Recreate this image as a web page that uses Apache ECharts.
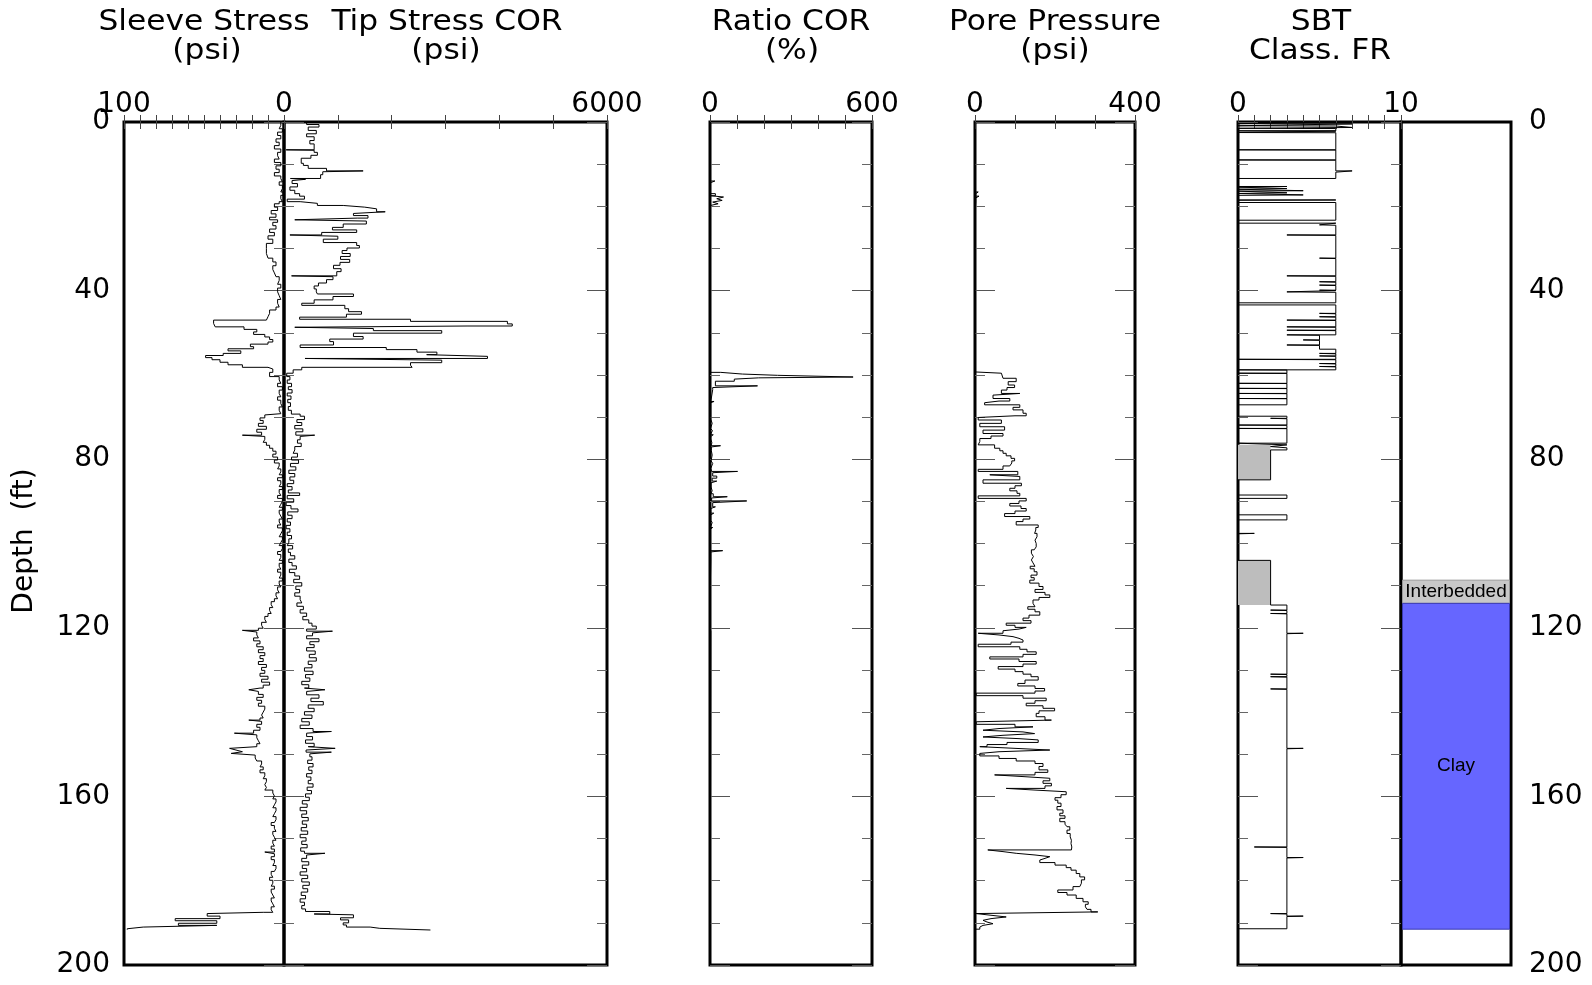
<!DOCTYPE html>
<html>
<head>
<meta charset="utf-8">
<script src="https://cdn.jsdelivr.net/npm/echarts@6/dist/echarts.min.js"></script>
<style>html,body{margin:0;padding:0;background:#fff}#chart{width:1592px;height:985px}</style>
</head>
<body>
<div id="chart"></div>
<script>
// ---------------- DATA (depth ft, value) ----------------
const sleeveData = [[0,2],[0.8,3],[1.6,1],[2.4,4],[3.2,2],[4.0,5],[4.8,3],[5.6,6],[6.4,2],[7.2,4],[8.0,3],[8.8,6],[9.6,2],[10.4,5],[11.2,3],[12.0,6],[12.8,2],[13.4,1],[14.2,3],[15.0,1],[15.8,2],[16.6,0.5],[17.4,2],[18.2,1],[18.9,3],[19.4,6],[20.2,4],[21.0,8],[21.8,5],[22.6,9],[23.2,4],[23.8,7],[24.6,5],[25.4,9],[26.2,6],[27.0,10],[27.8,7],[28.8,11],[30.0,11],[31.2,10],[32.3,7],[33.2,5],[34.1,7],[35.0,6],[35.8,5],[36.7,3],[37.6,4],[38.5,2],[39.4,4],[40.3,3],[41.2,2],[42.1,4],[43.0,3],[43.9,5],[44.6,9],[45.4,10],[46.2,11],[47.0,44],[47.8,43],[48.6,25],[49.2,17],[49.8,19],[50.4,12],[51.0,9],[51.6,7],[52.2,10],[52.7,21],[53.3,19],[53.8,35],[54.3,27],[54.9,38],[55.4,49],[55.9,45],[56.4,40],[57.0,35],[57.6,26],[58.2,10],[58.6,7],[59.4,9],[60.4,3],[61.2,2],[62.0,4],[62.8,1],[63.6,3],[64.4,2],[65.2,4],[66.0,2],[66.8,1],[67.6,3],[68.4,2],[69.2,1],[69.5,12],[70.2,15],[70.8,13],[71.5,16],[72.2,11],[72.9,17],[73.6,14],[74.3,26],[74.6,12],[75.3,13],[76.0,11],[76.7,9],[77.4,7],[78.1,5],[78.8,7],[79.5,4],[80.2,6],[80.9,3],[81.6,4],[82.3,2],[83.0,3],[83.7,1],[84.4,4],[85.1,2],[85.8,3],[86.5,1],[87.2,3],[87.9,2],[88.6,4],[89.3,1],[90.0,2],[90.7,3],[91.4,1],[92.1,3],[92.8,2],[93.5,1],[94.2,3],[94.9,2],[95.6,4],[96.3,1],[97.0,2],[97.7,3],[98.4,1],[99.1,2],[99.8,3],[100.5,1],[101.2,2],[101.9,4],[102.6,2],[103.3,3],[104.0,1],[104.7,3],[105.4,2],[106.1,4],[106.8,2],[107.5,3],[108.2,1],[108.9,3],[109.6,2],[110.3,4],[111.0,3],[111.7,5],[112.4,4],[113.1,6],[113.8,8],[114.5,7],[115.2,9],[115.9,8],[116.6,10],[117.3,12],[118.0,11],[118.7,14],[119.4,13],[120.1,16],[120.6,26],[121.0,17],[121.7,16],[122.4,19],[123.1,15],[123.8,17],[124.5,13],[125.2,16],[125.9,12],[126.6,15],[127.3,13],[128.0,16],[128.7,11],[129.4,14],[130.1,12],[130.8,15],[131.5,10],[132.2,14],[132.9,9],[133.6,13],[134.3,15],[134.7,22],[135.1,16],[135.8,13],[136.5,17],[137.2,14],[137.9,16],[138.6,12],[139.3,13],[140.0,14],[140.7,13],[141.4,15],[141.9,22],[142.2,14],[142.9,17],[143.6,15],[144.3,19],[145.0,31],[145.4,17],[146.1,16],[146.8,15],[147.5,17],[148.2,16],[148.6,34],[149.0,30],[149.4,26],[149.8,33],[150.2,18],[150.9,17],[151.6,14],[152.3,15],[153.0,13],[153.7,15],[154.4,12],[155.1,13],[155.8,11],[156.5,12],[157.2,11],[157.9,12],[158.5,7],[159.2,6],[159.9,7],[160.6,5],[161.3,6],[162.0,7],[162.7,5],[163.4,6],[164.1,7],[164.8,5],[165.5,6],[166.2,8],[166.9,6],[167.6,5],[168.3,7],[169.0,6],[169.7,5],[170.4,7],[171.1,6],[171.8,8],[172.5,6],[173.2,12],[173.6,6],[174.3,8],[175.0,6],[175.7,7],[176.4,5],[177.1,6],[177.8,8],[178.5,7],[179.2,9],[179.9,7],[180.6,8],[181.3,6],[182.0,8],[182.7,7],[183.4,6],[184.1,8],[184.8,7],[185.5,6],[186.2,8],[186.9,7],[187.5,13],[187.8,48],[188.4,40],[189.0,68],[189.5,42],[190.1,66],[190.6,42],[191.0,88],[191.4,98],[191.6,98]];

const tipData = [[0,420],[0.6,650],[1.2,450],[2.0,600],[2.8,420],[3.5,560],[4.4,480],[5.2,560],[6.6,40],[6.7,560],[7.2,620],[7.9,500],[8.6,320],[9.8,360],[10.3,450],[11.0,790],[11.6,1470],[11.8,720],[12.5,680],[13.4,120],[13.6,400],[13.9,150],[14.6,250],[15.4,110],[16.2,200],[17.0,290],[17.6,380],[18.3,60],[18.9,300],[19.3,620],[19.8,1100],[20.2,1500],[20.6,1720],[21.3,1880],[21.7,1290],[22.2,1560],[22.8,1360],[23.2,200],[23.5,1530],[24.2,1100],[25.0,900],[25.6,1350],[26.2,700],[26.8,110],[27.1,1000],[27.8,730],[28.6,1350],[29.3,1400],[29.9,1170],[30.5,1080],[31.2,1230],[31.9,1050],[32.6,1220],[33.3,1040],[34.0,920],[34.8,1060],[35.5,980],[36.5,140],[36.7,910],[37.4,790],[38.2,640],[38.9,560],[39.6,600],[40.3,620],[40.8,1290],[41.4,910],[42.2,560],[43.0,330],[43.5,1130],[44.3,1200],[45.0,1440],[45.6,1160],[46.3,290],[46.8,2350],[47.3,4150],[47.9,4240],[48.4,3400],[48.7,200],[49.0,1660],[49.5,2930],[50.1,1290],[50.9,1470],[51.5,850],[52.1,920],[52.9,300],[53.5,1900],[54.0,2470],[54.6,2840],[55.2,2650],[55.6,3780],[56.1,390],[56.5,2930],[57.1,2350],[57.7,2380],[58.2,330],[58.8,170],[59.6,50],[60.4,110],[61.2,60],[62.0,140],[62.8,80],[63.5,150],[64.3,60],[65.0,130],[65.8,70],[66.6,120],[67.5,80],[68.4,137],[69.3,300],[69.8,380],[70.6,240],[71.3,330],[72.0,200],[72.8,350],[73.5,220],[74.3,570],[74.6,300],[75.4,250],[76.2,320],[77.0,200],[77.8,170],[78.6,250],[79.5,140],[80.2,270],[81.0,120],[81.8,220],[82.6,90],[83.4,200],[84.2,110],[85.0,180],[85.8,60],[86.5,150],[87.3,80],[88.0,290],[88.6,60],[89.4,180],[90.2,40],[91.0,130],[91.8,260],[92.5,70],[93.3,150],[94.1,60],[94.9,120],[95.7,40],[96.5,110],[97.3,60],[98.1,140],[98.9,90],[99.7,60],[100.5,160],[101.3,80],[102.1,120],[102.9,200],[103.7,90],[104.5,150],[105.3,230],[106.1,100],[106.9,200],[107.7,290],[108.5,180],[109.3,330],[110.1,220],[110.9,290],[111.7,200],[112.5,300],[113.3,330],[114.1,240],[114.9,360],[115.7,300],[116.5,420],[117.3,350],[118.1,460],[118.9,520],[119.6,600],[120.3,420],[120.8,900],[121.2,530],[121.9,420],[122.6,650],[123.3,480],[124.0,560],[124.7,420],[125.5,580],[126.3,470],[127.1,600],[127.9,450],[128.7,520],[129.5,380],[130.3,540],[131.1,400],[131.9,480],[132.7,330],[133.5,460],[134.3,380],[134.7,760],[135.1,420],[135.9,650],[136.7,500],[137.5,730],[138.3,450],[139.1,560],[139.9,380],[140.7,520],[141.5,330],[142.3,470],[143.1,300],[143.9,540],[144.6,880],[145.0,420],[145.8,530],[146.6,400],[147.4,560],[148.2,450],[148.6,950],[149.0,410],[149.5,880],[149.9,480],[150.6,520],[151.4,440],[152.2,540],[153.0,460],[153.8,520],[154.6,420],[155.4,500],[156.2,450],[157.0,540],[157.8,430],[158.6,510],[159.4,400],[160.2,470],[161.0,340],[161.8,430],[162.6,300],[163.4,420],[164.2,330],[165.0,450],[165.8,340],[166.6,420],[167.4,320],[168.2,440],[169.0,300],[169.8,410],[170.6,330],[171.4,430],[172.2,310],[173.0,380],[173.5,760],[173.9,420],[174.7,330],[175.5,460],[176.3,340],[177.1,420],[177.9,300],[178.7,440],[179.5,330],[180.3,470],[181.1,350],[181.9,440],[182.7,320],[183.5,400],[184.3,300],[185.1,380],[185.9,330],[186.7,400],[187.3,850],[187.9,560],[188.1,1290],[188.8,1050],[189.3,1200],[190.0,1100],[190.5,1160],[191.0,1600],[191.3,1780],[191.7,2720]];

const ratioData = [[0,2],[14.0,18],[14.4,2],[17.0,20],[17.5,4],[17.8,50],[18.2,25],[18.6,45],[19.0,10],[19.4,30],[19.8,2],[26.7,8],[27.0,1],[49.2,6],[49.5,1],[56.0,5],[56.3,1],[58.2,8],[58.5,2],[59.4,40],[59.8,120],[60.1,250],[60.5,530],[60.7,180],[61.0,90],[61.5,20],[62.6,176],[63.0,10],[63.5,3],[66.3,15],[66.6,3],[69.5,10],[69.8,3],[70.5,8],[71.5,2],[72.7,9],[73.2,2],[74.2,12],[74.6,3],[75.2,7],[76.1,4],[76.8,39],[77.1,5],[78.0,8],[79.0,4],[80.4,10],[81.0,3],[82.2,6],[82.9,102],[83.2,10],[84.0,25],[84.5,8],[85.2,25],[85.6,4],[86.6,8],[87.5,3],[88.2,12],[88.9,64],[89.2,6],[89.9,136],[90.3,10],[91.3,20],[91.7,3],[92.8,14],[93.2,3],[94.5,8],[95.0,2],[96.2,10],[96.6,2],[98.3,8],[98.7,2],[101.7,47],[102.0,3],[104.2,5],[104.6,1],[110.8,4],[111.2,1],[120.3,3],[120.8,1],[189.0,5],[189.4,1],[191.6,1]];

const poreData = [[0,0],[14.0,4],[14.4,1],[15.2,6],[15.6,1],[16.6,8],[17.0,2],[17.6,10],[18.0,2],[19.0,6],[19.4,1],[20.5,4],[20.8,1],[22.2,3],[22.5,1],[24.0,4],[24.3,1],[25.5,3],[25.8,1],[26.5,4],[26.9,0],[48.4,3],[48.7,0],[52.8,3],[53.1,0],[56.1,3],[56.4,0],[59.3,3],[59.6,66],[60.0,70],[60.8,103],[61.6,83],[62.4,99],[63.0,80],[63.6,66],[64.4,112],[64.8,45],[65.6,87],[66.2,60],[66.6,24],[67.1,112],[67.7,95],[68.3,120],[69.1,128],[69.7,100],[70.1,8],[70.7,66],[71.5,12],[72.3,74],[73.1,20],[73.9,70],[74.5,40],[75.1,12],[75.8,8],[76.6,49],[77.4,62],[78.0,70],[78.6,78],[79.2,90],[79.8,99],[80.4,92],[80.9,87],[81.6,70],[82.4,8],[82.9,107],[83.7,37],[84.1,112],[84.9,20],[85.7,116],[86.3,100],[86.9,87],[87.5,105],[88.1,112],[88.7,8],[89.3,128],[89.9,110],[90.5,87],[91.1,115],[91.7,128],[92.3,100],[92.9,74],[93.6,137],[94.2,120],[94.8,103],[95.6,158],[96.2,152],[96.8,149],[97.6,155],[98.4,150],[99.2,153],[100.0,153],[100.8,148],[101.5,141],[102.3,146],[103.1,141],[103.9,145],[104.6,150],[105.4,138],[106.0,148],[106.7,155],[107.5,140],[108.1,148],[108.7,137],[109.4,160],[110.2,170],[110.9,150],[111.6,175],[112.2,187],[112.8,160],[113.4,145],[114.2,150],[115.0,132],[115.6,150],[116.2,162],[117.0,135],[117.7,120],[118.3,140],[118.9,78],[119.4,100],[119.9,128],[120.3,110],[120.7,70],[121.3,8],[121.7,60],[122.1,95],[122.5,110],[122.9,120],[123.4,90],[123.9,8],[124.5,112],[125.1,130],[125.7,153],[126.3,120],[126.9,37],[127.4,110],[128.0,153],[128.6,120],[129.2,58],[129.8,100],[130.4,120],[131.0,140],[131.6,158],[132.4,125],[133.2,107],[133.8,150],[134.4,174],[135.0,150],[135.5,3],[136.1,120],[136.7,178],[137.3,150],[137.9,128],[138.5,170],[139.1,199],[139.7,160],[140.3,153],[141.1,175],[141.9,191],[142.3,3],[142.9,100],[143.5,145],[143.9,60],[144.3,20],[144.7,120],[145.1,149],[145.5,70],[145.9,20],[146.3,110],[146.6,158],[147.2,80],[147.7,30],[148.2,12],[148.6,100],[149.0,187],[149.4,60],[149.8,12],[150.4,60],[151.0,103],[151.6,150],[152.2,170],[152.9,160],[153.7,182],[154.3,150],[154.9,49],[155.3,120],[155.7,187],[156.3,170],[156.9,191],[157.5,175],[158.1,78],[158.5,150],[158.9,228],[159.6,215],[160.3,200],[160.9,207],[161.6,215],[162.4,205],[163.2,220],[164.0,212],[164.6,225],[165.2,212],[166.0,225],[166.6,230],[167.2,237],[168.0,230],[168.8,238],[169.6,241],[170.4,240],[171.2,242],[172.0,241],[172.7,32],[173.1,70],[173.5,103],[173.9,150],[174.3,187],[174.7,175],[175.1,162],[175.7,200],[176.3,228],[176.9,240],[177.5,253],[178.3,262],[179.1,274],[179.8,266],[180.6,262],[181.4,245],[182.2,207],[182.8,230],[183.4,253],[184.2,270],[185.0,283],[185.6,276],[186.2,280],[186.8,290],[187.4,307],[187.8,3],[188.2,40],[188.6,78],[189.0,40],[189.4,20],[189.8,30],[190.2,45],[190.6,20],[191.0,12],[191.5,0]];

const sbtData = [[0,6],[0.4,0],[0.45,7],[0.9,0],[0.95,6],[1.3,7],[1.5,0],[1.55,6],[2.1,0],[2.15,6],[2.5,0],[2.55,6],[6.6,0],[6.65,6],[9.0,0],[9.05,6],[11.6,7],[11.9,6],[13.4,0],[15.3,3],[15.45,0],[15.8,3],[15.95,0],[16.3,4],[16.4,0],[16.8,3],[16.95,0],[17.3,4],[17.4,0],[18.5,6],[18.55,0],[19.1,6],[23.3,0],[24.0,6],[24.4,5],[24.5,6],[26.8,3],[26.9,6],[32.3,5],[32.4,6],[36.5,3],[36.6,6],[37.9,5],[38.0,6],[38.7,5],[38.8,6],[39.9,5],[40.0,6],[40.3,3],[40.4,6],[42.9,0],[43.4,6],[45.4,5],[45.5,6],[46.2,5],[46.3,6],[47.0,3],[47.1,6],[48.6,3],[48.7,6],[49.4,3],[49.5,6],[50.5,3],[50.6,5],[51.7,4],[51.8,5],[52.9,3],[53.0,5],[53.9,6],[54.9,5],[55.0,6],[55.5,5],[55.6,6],[56.3,0],[56.4,6],[57.3,5],[57.4,6],[58.0,5],[58.1,6],[58.8,0],[58.85,3],[59.6,0],[59.65,3],[62.0,0],[62.05,3],[63.2,0],[63.25,3],[64.4,0],[64.45,3],[65.6,0],[65.65,3],[67.1,0],[69.8,3],[70.3,2],[70.4,3],[71.9,0],[71.95,3],[72.7,0],[72.75,3],[76.2,0],[76.6,3],[77.0,2],[77.3,3],[77.8,2],[84.9,0],[88.5,3],[89.3,0],[93.2,3],[94.4,0],[97.6,1],[97.7,0],[104.0,2],[114.6,3],[115.8,2],[115.9,3],[116.6,2],[116.7,3],[121.3,4],[121.4,3],[131.0,2],[131.1,3],[131.6,2],[131.7,3],[134.5,2],[134.6,3],[148.6,4],[148.7,3],[172.0,1],[172.1,3],[174.5,4],[174.6,3],[187.8,2],[187.9,3],[188.4,4],[188.5,3],[191.4,0]];

// dense (grey) SBT zones: [top depth, bottom depth, class]
const sbtDenseZones = [[76.6,84.9,2],[104.0,114.6,2]];

// soil column
const soilNames = ['Interbedded','Clay'];
const soilTops = [108.7,114.2];
const soilBottoms = [114.2,191.5];
const soilColors = ['#c8c8c8','#6666ff'];
const soilStrokes = ['#9a9a9a','#3a3ab0'];

// tick labels
const sleeveTickLabels = [100];
const tipTickLabels = [0,6000];
const ratioTickLabels = [0,600];
const poreTickLabels = [0,400];
const sbtTickLabels = [0,10];
const depthTickLabels = [0,40,80,120,160,200];

// titles
const titleLine1 = ['Sleeve Stress','Tip Stress COR','Ratio COR','Pore Pressure','SBT'];
const titleLine2 = ['(psi)','(psi)','(%)','(psi)','Class. FR'];

// ---------------- CHART ----------------
const FONT = 'DejaVu Sans';
const TOP = 122, HEIGHT = 843;
const panels = [
  {key:'sleeve', left:124, width:160, min:0, max:100, interval:10, inverse:true, labels:sleeveTickLabels},
  {key:'tip', left:284, width:323, min:0, max:6000, interval:1000, labels:tipTickLabels},
  {key:'ratio', left:710, width:162, min:0, max:600, interval:100, labels:ratioTickLabels},
  {key:'pore', left:975, width:160, min:0, max:400, interval:100, labels:poreTickLabels},
  {key:'sbt', left:1238, width:163, min:0, max:10, interval:1, labels:sbtTickLabels},
  {key:'soil', left:1401, width:110, min:0, max:1, interval:1, labels:[]}
];

const grid = panels.map(p => ({left:p.left, top:TOP, width:p.width, height:HEIGHT, show:true,
  borderColor:'#000', borderWidth:3, backgroundColor:'rgba(0,0,0,0)', containLabel:false, outerBoundsMode:'none'}));

const xAxis = [];
panels.forEach((p, i) => {
  const base = {gridIndex:i, type:'value', min:p.min, max:p.max, interval:p.interval, inverse:!!p.inverse,
    axisLine:{show:false}, splitLine:{show:false}};
  const tick = {show:p.key !== 'soil', inside:true, length:7, lineStyle:{color:'#444', width:1}};
  xAxis.push(Object.assign({}, base, {position:'top', axisTick:tick,
    axisLabel:{show:p.labels.length > 0, showMinLabel:true, showMaxLabel:true, hideOverlap:false, margin:3,
      fontFamily:FONT, fontSize:28, color:'#000', formatter:v => p.labels.includes(v) ? String(v) : ''}}));
  xAxis.push(Object.assign({}, base, {position:'bottom', axisTick:tick, axisLabel:{show:false}}));
});

const yAxis = [];
const yBase = {type:'value', min:0, max:200, inverse:true, axisLine:{show:false}, splitLine:{show:false}};
panels.forEach((p, i) => {
  if (p.key === 'soil') {
    yAxis.push(Object.assign({}, yBase, {gridIndex:i, position:'right', interval:40, axisTick:{show:false},
      axisLabel:{show:true, margin:18, fontFamily:FONT, fontSize:28, color:'#000', showMinLabel:true, showMaxLabel:true,
        formatter:v => depthTickLabels.includes(v) ? String(v) : ''}}));
    return;
  }
  ['left','right'].forEach(side => {
    yAxis.push(Object.assign({}, yBase, {gridIndex:i, position:side, interval:10,
      axisTick:{inside:true, length:10, lineStyle:{color:'#666', width:1}}, axisLabel:{show:false}}));
    yAxis.push(Object.assign({}, yBase, {gridIndex:i, position:side, interval:40,
      axisTick:{inside:true, length:20, lineStyle:{color:'#555', width:1}},
      axisLabel:{show:i === 0 && side === 'left', margin:14, fontFamily:FONT, fontSize:28, color:'#000',
        showMinLabel:true, showMaxLabel:true, formatter:v => depthTickLabels.includes(v) ? String(v) : ''}}));
  });
});

function lineSeries(name, data, xi, yi) {
  return {name, type:'line', xAxisIndex:xi, yAxisIndex:yi, data:data.map(([d, v]) => [v, d]),
    step:'start', symbol:'none', showSymbol:false, lineStyle:{color:'#000', width:1}, z:3, animation:false};
}

const series = [
  lineSeries('Sleeve Stress', sleeveData, 0, 0),
  lineSeries('Tip Stress COR', tipData, 2, 4),
  lineSeries('Ratio COR', ratioData, 4, 8),
  lineSeries('Pore Pressure', poreData, 6, 12),
  {type:'custom', xAxisIndex:8, yAxisIndex:16, z:2, animation:false, data:sbtDenseZones,
    renderItem:(params, api) => {
      const p1 = api.coord([0, api.value(0)]);
      const p2 = api.coord([api.value(2), api.value(1)]);
      return {type:'rect', shape:{x:p1[0], y:p1[1], width:p2[0]-p1[0], height:p2[1]-p1[1]}, style:{fill:'#bdbdbd'}};
    }},
  lineSeries('SBT', sbtData, 8, 16),
  {type:'custom', xAxisIndex:10, yAxisIndex:20, z:2, animation:false,
    data:soilNames.map((n, i) => [soilTops[i], soilBottoms[i], i]),
    renderItem:(params, api) => {
      const idx = api.value(2);
      const p1 = api.coord([0, api.value(0)]);
      const p2 = api.coord([1, api.value(1)]);
      return {type:'group', children:[
        {type:'rect', shape:{x:p1[0]+1.5, y:p1[1], width:p2[0]-p1[0]-3, height:p2[1]-p1[1]},
          style:{fill:soilColors[idx], stroke:soilStrokes[idx], lineWidth:1}},
        {type:'text', x:(p1[0]+p2[0])/2, y:(p1[1]+p2[1])/2,
          style:{text:soilNames[idx], fontFamily:'Liberation Sans', fontSize:idx === 0 ? 19 : 19, fill:'#000',
            align:'center', verticalAlign:'middle'}}
      ]};
    }}
];

const titleX1 = [204, 447, 791, 1055, 1321];
const titleX2 = [207, 446, 792, 1055, 1320];
const graphic = [];
titleLine1.forEach((t, i) => {
  graphic.push({type:'text', x:titleX1[i], y:22, scaleX:1.08, style:{text:t, fontFamily:FONT, fontSize:29, fill:'#000', align:'center', verticalAlign:'middle'}});
  graphic.push({type:'text', x:titleX2[i], y:51, scaleX:1.08, style:{text:titleLine2[i], fontFamily:FONT, fontSize:29, fill:'#000', align:'center', verticalAlign:'middle'}});
});
graphic.push({type:'text', x:25, y:541, rotation:Math.PI/2,
  style:{text:'Depth  (ft)', fontFamily:FONT, fontSize:28, fill:'#000', align:'center', verticalAlign:'middle'}});

const chart = echarts.init(document.getElementById('chart'), null, {renderer:'canvas'});
chart.setOption({animation:false, backgroundColor:'#fff', grid, xAxis, yAxis, series, graphic});
</script>
</body>
</html>
